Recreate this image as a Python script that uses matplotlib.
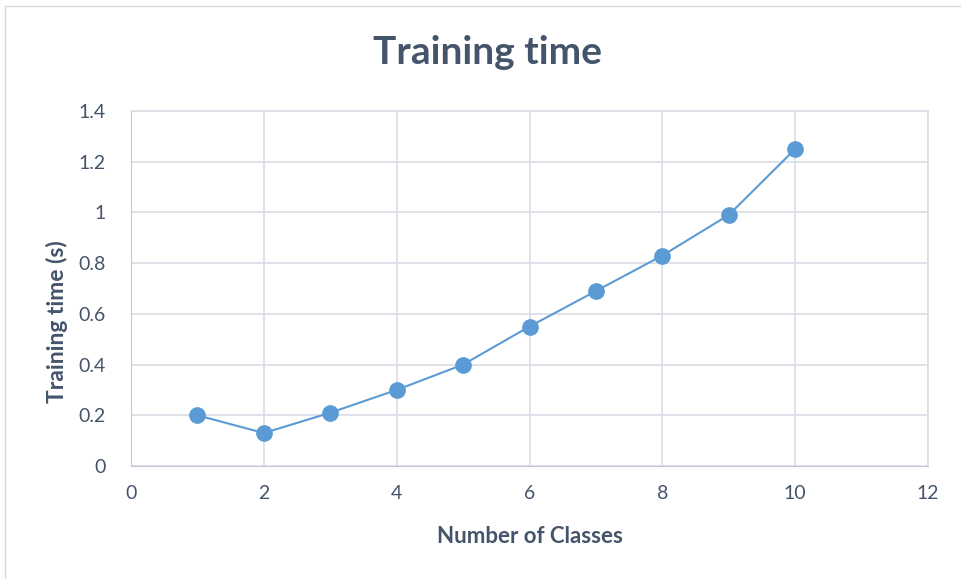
import matplotlib
matplotlib.use("Agg")
import matplotlib.pyplot as plt
from matplotlib.patches import Rectangle

# data
classes = [1, 2, 3, 4, 5, 6, 7, 8, 9, 10]
train_time = [0.2, 0.13, 0.21, 0.3, 0.4, 0.55, 0.69, 0.83, 0.99, 1.25]
x_ticks = [0, 2, 4, 6, 8, 10, 12]
y_ticks = [0, 0.2, 0.4, 0.6, 0.8, 1.0, 1.2, 1.4]
y_labels = ["0", "0.2", "0.4", "0.6", "0.8", "1", "1.2", "1.4"]

text_col = "#44546A"
grid_col = "#D9DEE5"
line_col = "#5B9BD5"

plt.rcParams['font.family'] = ['Lato', 'DejaVu Sans']

fig = plt.figure(figsize=(9.61, 5.79), dpi=100)
ax = fig.add_axes([131/961, 1-466/579, (928-131)/961, (466-111)/579])

# outer chart frame
fig.patches.append(Rectangle((5/961, -0.1), 1.1, 1.1 - 6/579,
                             transform=fig.transFigure, fill=False,
                             edgecolor="#D9D9D9", lw=1))

ax.plot(classes, train_time, color=line_col, lw=1.5, marker="o",
        markersize=11, markerfacecolor=line_col, markeredgecolor=line_col, zorder=3)

ax.set_xlim(0, 12)
ax.set_ylim(0, 1.4)
ax.set_xticks(x_ticks)
ax.set_yticks(y_ticks)
ax.set_yticklabels(y_labels)
ax.grid(True, color=grid_col, lw=1.2)
ax.set_axisbelow(True)
for s in ["top", "right"]:
    ax.spines[s].set_color(grid_col)
    ax.spines[s].set_linewidth(1.2)
ax.spines["left"].set_color("#BFC8D6")
ax.spines["bottom"].set_color("#BFC8D6")
ax.tick_params(length=0, labelsize=14, labelcolor=text_col)
ax.tick_params(axis="x", pad=14)
ax.tick_params(axis="y", pad=18)

ax.set_xlabel("Number of Classes", fontsize=16, fontweight="bold", color=text_col, labelpad=17)
ax.set_ylabel("Training time (s)", fontsize=16.5, fontweight="bold", color=text_col)
ax.yaxis.set_label_coords(-0.079, 0.406)
fig.text(488/961, 1-53/579, "Training time", ha="center", va="center",
         fontsize=28, fontweight="bold", color=text_col)

fig.savefig("out.png", dpi=100)
